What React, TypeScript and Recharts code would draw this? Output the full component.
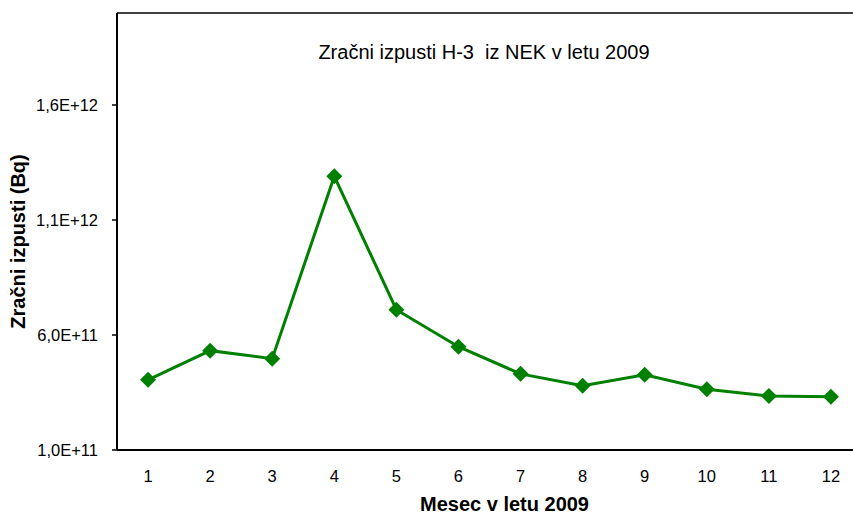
import { LineChart, Line, XAxis, YAxis, ReferenceLine } from "recharts";

const months = [1, 2, 3, 4, 5, 6, 7, 8, 9, 10, 11, 12];
const emissions = [
  4.05e11, 5.32e11, 4.97e11, 1.29e12, 7.1e11, 5.49e11, 4.31e11, 3.79e11,
  4.27e11, 3.64e11, 3.35e11, 3.31e11,
];
const yTicks = [1e11, 6e11, 1.1e12, 1.6e12];
const yTickLabels = ["1,0E+11", "6,0E+11", "1,1E+12", "1,6E+12"];
const yMax = 2e12;

const title = "Zračni izpusti H-3  iz NEK v letu 2009";
const xTitle = "Mesec v letu 2009";
const yTitle = "Zračni izpusti (Bq)";

const data = months.map((m, i) => ({ month: m, value: emissions[i] }));
// boundaries between months, where Excel puts its tick marks
const boundaryTicks = months.map((m) => m - 0.5).concat(months[months.length - 1] + 0.5);

const FONT = "'Liberation Sans', Arial, sans-serif";

const Diamond = (props: any) => {
  const { cx, cy } = props;
  if (cx == null || cy == null) return null;
  const r = 8;
  return (
    <polygon
      points={`${cx},${cy - r} ${cx + r},${cy} ${cx},${cy + r} ${cx - r},${cy}`}
      fill="#008000"
    />
  );
};

const YTitle = (props: any) => {
  const vb = props.viewBox || { x: 0, y: 0, height: 0 };
  const x = 25;
  const y = vb.y + vb.height / 2 + 10;
  return (
    <text
      x={x}
      y={y}
      transform={`rotate(-90, ${x}, ${y})`}
      textAnchor="middle"
      fontFamily={FONT}
      fontSize={20}
      fontWeight="bold"
      fill="#000"
    >
      {yTitle}
    </text>
  );
};

export default function App() {
  return (
    <div
      style={{
        position: "absolute",
        left: 0,
        top: 0,
        width: 853,
        height: 515,
        overflow: "hidden",
        background: "#fff",
        fontFamily: FONT,
      }}
    >
      <LineChart
        width={870}
        height={515}
        data={data}
        margin={{ top: 13, right: 8, left: 0, bottom: 0 }}
      >
        <XAxis
          xAxisId="a"
          type="number"
          dataKey="month"
          domain={[0.5, 12.5]}
          allowDataOverflow
          ticks={boundaryTicks}
          interval={0}
          tick={false}
          tickSize={6}
          height={1}
          axisLine={{ stroke: "#000", strokeWidth: 2 }}
          tickLine={{ stroke: "#000", strokeWidth: 1.5 }}
        />
        <XAxis
          xAxisId="b"
          type="number"
          dataKey="month"
          domain={[0.5, 12.5]}
          allowDataOverflow
          ticks={months}
          interval={0}
          height={64}
          tickSize={6}
          tickMargin={13}
          axisLine={false}
          tickLine={false}
          tick={{ fill: "#000", fontSize: 16.5, fontFamily: FONT }}
          label={{
            value: xTitle,
            position: "insideBottom",
            offset: 4,
            dx: 15,
            fill: "#000",
            fontSize: 20,
            fontWeight: "bold",
            fontFamily: FONT,
          }}
        />
        <YAxis
          type="number"
          domain={[yTicks[0], yMax]}
          ticks={yTicks}
          interval={0}
          width={117}
          tickSize={5}
          tickMargin={14}
          tickFormatter={(v: number) => yTickLabels[yTicks.indexOf(v)] ?? ""}
          tick={{ fill: "#000", fontSize: 16.5, fontFamily: FONT }}
          axisLine={{ stroke: "#000", strokeWidth: 2 }}
          tickLine={{ stroke: "#000", strokeWidth: 1.5 }}
          label={<YTitle />}
        />
        <ReferenceLine y={yMax} xAxisId="b" stroke="#404040" strokeWidth={2} />
        <Line
          xAxisId="b"
          type="linear"
          dataKey="value"
          stroke="#008000"
          strokeWidth={3}
          dot={<Diamond />}
          activeDot={false}
          isAnimationActive={false}
        />
      </LineChart>
      <div
        style={{
          position: "absolute",
          left: 234,
          width: 500,
          top: 41,
          textAlign: "center",
          fontSize: 20,
          color: "#000",
          whiteSpace: "pre",
        }}
      >
        {title}
      </div>
    </div>
  );
}
